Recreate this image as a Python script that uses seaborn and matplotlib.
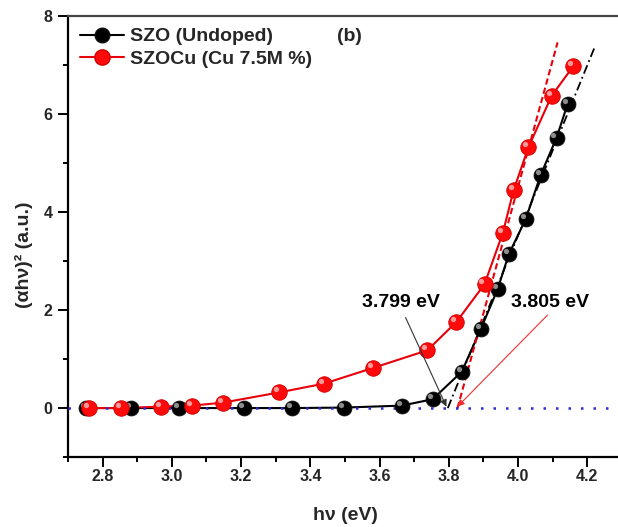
import numpy as np
import pandas as pd
import matplotlib
matplotlib.use("Agg")
import matplotlib.pyplot as plt
import seaborn as sns
from matplotlib.ticker import MultipleLocator, FormatStrFormatter
from matplotlib.transforms import ScaledTranslation
from matplotlib.lines import Line2D

# ---- data ----
szo_label = "SZO (Undoped)"
szo_x = [2.752, 2.882, 3.020, 3.208, 3.346, 3.496, 3.664, 3.753, 3.837, 3.892,
         3.941, 3.973, 4.022, 4.065, 4.111, 4.143]
szo_y = [0.00, 0.00, 0.00, 0.00, 0.00, 0.01, 0.05, 0.18, 0.74, 1.61,
         2.43, 3.14, 3.86, 4.76, 5.52, 6.21]

cu_label = "SZOCu (Cu 7.5M %)"
cu_x = [2.761, 2.853, 2.969, 3.058, 3.147, 3.310, 3.440, 3.581, 3.738, 3.822,
        3.903, 3.956, 3.987, 4.030, 4.097, 4.160]
cu_y = [0.00, 0.00, 0.03, 0.05, 0.11, 0.32, 0.50, 0.82, 1.18, 1.76,
        2.53, 3.58, 4.45, 5.33, 6.38, 6.99]

# tangent (Tauc) extrapolation lines
szo_fit_x = [3.797, 4.221]
szo_fit_y = [0.0, 7.37]
cu_fit_x = [3.825, 4.114]
cu_fit_y = [0.0, 7.47]

baseline_y = 0.0

# annotations
gap_labels = ["3.799 eV", "3.805 eV"]
gap_text_x = [3.662, 4.092]
gap_text_y = [2.16, 2.16]
arrow_start_x = [3.675, 4.085]
arrow_start_y = [1.85, 1.90]
arrow_end_x = [3.793, 3.825]
arrow_end_y = [0.03, 0.03]

panel_label = "(b)"
panel_x, panel_y = 3.514, 7.6

x_ticks = [2.8, 3.0, 3.2, 3.4, 3.6, 3.8, 4.0, 4.2]
y_ticks = [0, 2, 4, 6, 8]

# ---- style ----
sns.set_theme(style="ticks")
plt.rcParams["font.family"] = ["Liberation Sans", "DejaVu Sans"]
plt.rcParams["font.weight"] = "bold"
plt.rcParams["axes.labelweight"] = "bold"

fig = plt.figure(figsize=(6.18, 5.27), dpi=100)
ax = fig.add_axes([0.110, 0.1328, 0.8964, 0.8359])

df_szo = pd.DataFrame({"x": szo_x, "y": szo_y})
df_cu = pd.DataFrame({"x": cu_x, "y": cu_y})

# connecting lines
sns.lineplot(data=df_szo, x="x", y="y", ax=ax, color="black", lw=1.5,
             sort=False, zorder=2, legend=False)
sns.lineplot(data=df_cu, x="x", y="y", ax=ax, color="#e8000b", lw=1.5,
             sort=False, zorder=2.2, legend=False)

# tangent lines
ax.plot(szo_fit_x, szo_fit_y, color="black", ls=(0, (5, 2, 1, 2)), lw=1.3, zorder=2.5)
ax.plot(cu_fit_x, cu_fit_y, color="#e8000b", ls=(0, (3, 1.6)), lw=1.5, zorder=2.5)

# baseline
ax.axhline(baseline_y, color="#2b2bd6", ls=(0, (1, 4)), lw=1.8, zorder=3)

# markers (spheres)
sns.scatterplot(data=df_szo, x="x", y="y", ax=ax, color="black", s=115,
                edgecolor="#111111", linewidth=0.6, zorder=5, legend=False)
sns.scatterplot(data=df_cu, x="x", y="y", ax=ax, color="#ff0a0a", s=125,
                edgecolor="#d00000", linewidth=0.6, zorder=6, legend=False)

hl = ax.transData + ScaledTranslation(-2.2 / 72, 2.2 / 72, fig.dpi_scale_trans)
ax.plot(szo_x, szo_y, "o", ms=3.8, color="#8c8c8c", mec="none", transform=hl, zorder=5.5)
ax.plot(cu_x, cu_y, "o", ms=3.8, color="#ff9a9a", mec="none", transform=hl, zorder=6.5)

# annotations
arrow_colors = ["#333333", "#f03030"]
for lab, tx, ty, sx, sy, ex, ey, c in zip(gap_labels, gap_text_x, gap_text_y,
                                          arrow_start_x, arrow_start_y,
                                          arrow_end_x, arrow_end_y, arrow_colors):
    ax.text(tx, ty, lab, ha="center", va="center", fontsize=14,
            fontweight="bold", color="black", zorder=8)
    ax.annotate("", xy=(ex, ey), xytext=(sx, sy),
                arrowprops=dict(arrowstyle="-|>", color=c, lw=0.8,
                                mutation_scale=10, shrinkA=0, shrinkB=0),
                zorder=7)

ax.text(panel_x, panel_y, panel_label, ha="center", va="center", fontsize=14,
        fontweight="bold")

# axes
ax.set_xlim(2.7, 4.3)
ax.set_ylim(-1, 8)
ax.set_xticks(x_ticks)
ax.set_yticks(y_ticks)
ax.xaxis.set_major_formatter(FormatStrFormatter("%.1f"))
ax.xaxis.set_minor_locator(MultipleLocator(0.1))
ax.yaxis.set_minor_locator(MultipleLocator(1))
ax.tick_params(which="major", direction="out", length=7, width=1.4,
               labelsize=11.5, color="black")
ax.tick_params(which="minor", direction="out", length=3.5, width=1.4, color="black")
ax.tick_params(axis="x", which="major", pad=1.5)
ax.tick_params(axis="y", which="major", pad=4)
for lbl in ax.get_xticklabels() + ax.get_yticklabels():
    lbl.set_fontweight("bold")

for s in ["left", "bottom"]:
    ax.spines[s].set_color("black")
    ax.spines[s].set_linewidth(1.6)
ax.spines["top"].set_visible(True)
ax.spines["top"].set_color("#444444")
ax.spines["top"].set_linewidth(1.6)
ax.spines["right"].set_visible(False)

ax.set_xlabel("h\u03bd (eV)", fontsize=14, fontweight="bold")
ax.set_ylabel("(\u03b1h\u03bd)\u00b2 (a.u.)", fontsize=14, fontweight="bold")
ax.xaxis.set_label_coords(0.5, -0.1317)
ax.xaxis.label.set_verticalalignment("center")
ax.yaxis.set_label_coords(-0.079, 0.4586)
ax.yaxis.label.set_verticalalignment("center")

# legend
h_szo = Line2D([], [], color="black", lw=1.5, marker="o", ms=10.5,
               mfc="black", mec="#111111")
h_cu = Line2D([], [], color="#e8000b", lw=1.5, marker="o", ms=11,
              mfc="#ff0a0a", mec="#d00000")
leg = ax.legend([h_szo, h_cu], [szo_label, cu_label], loc="upper left",
                bbox_to_anchor=(0.007, 0.992), borderaxespad=0, frameon=False,
                fontsize=14, handlelength=2.27, handletextpad=0.3,
                labelspacing=0.25)
for t in leg.get_texts():
    t.set_fontweight("bold")

fig.savefig("out.png", dpi=100)
